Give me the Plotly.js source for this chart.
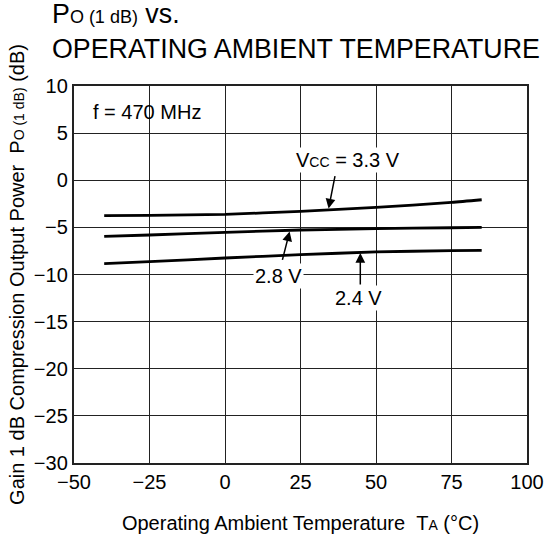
<!DOCTYPE html>
<html>
<head>
<meta charset="utf-8">
<script src="https://cdn.plot.ly/plotly-3.0.1.min.js"></script>
<style>html,body{margin:0;padding:0;background:#fff;}#chart{width:550px;height:541px;}</style>
</head>
<body>
<div id="chart"></div>
<script>
// Data
const temperature = [-40, -25, 0, 25, 50, 75, 85];
const vcc33 = [-3.76, -3.72, -3.62, -3.30, -2.88, -2.35, -2.07];
const vcc28 = [-5.95, -5.81, -5.53, -5.28, -5.14, -5.04, -5.00];
const vcc24 = [-8.85, -8.64, -8.25, -7.90, -7.61, -7.47, -7.44];
const seriesNames = ['VCC = 3.3 V', '2.8 V', '2.4 V'];
const xTicks = [-50, -25, 0, 25, 50, 75, 100];
const yTicks = [-30, -25, -20, -15, -10, -5, 0, 5, 10];

const FONT = 'Liberation Sans, Arial, Helvetica, sans-serif';
const lineStyle = {color: '#000', width: 2.8, shape: 'spline', smoothing: 0.6};

const traces = [
  {x: temperature, y: vcc33, name: seriesNames[0], mode: 'lines', line: lineStyle},
  {x: temperature, y: vcc28, name: seriesNames[1], mode: 'lines', line: lineStyle},
  {x: temperature, y: vcc24, name: seriesNames[2], mode: 'lines', line: lineStyle}
];

const txtFont = {family: FONT, size: 20, color: '#000'};
const arrow = {showarrow: true, text: '', arrowhead: 2, arrowsize: 1.3, arrowwidth: 1.5, arrowcolor: '#000', standoff: 0};

const layout = {
  width: 550, height: 541,
  margin: {l: 74, r: 23, t: 86, b: 78},
  paper_bgcolor: '#fff', plot_bgcolor: '#fff',
  showlegend: false,
  font: {family: FONT, color: '#000'},
  title: {
    text: 'P<span style="font-size:18px">O (1 dB)</span> vs.<br>OPERATING AMBIENT TEMPERATURE',
    font: {family: FONT, size: 26.8, color: '#000'},
    xref: 'container', yref: 'container',
    x: 52 / 550, xanchor: 'left',
    y: 0.957, yanchor: 'top'
  },
  xaxis: {
    range: [-50, 100], tickvals: xTicks, ticktext: xTicks.map(v => v < 0 ? '\u2212' + Math.abs(v) : String(v)),
    showgrid: true, gridcolor: '#222', gridwidth: 1,
    showline: true, linecolor: '#222', linewidth: 2.2, mirror: true,
    zeroline: false, ticks: '', ticklabelstandoff: 0,
    tickfont: {family: FONT, size: 20, color: '#000'},
    title: {text: 'Operating Ambient Temperature\u00a0\u00a0T<span style="font-size:14px">A</span> (°C)', font: {family: FONT, size: 20, color: '#000'}, standoff: 24}
  },
  yaxis: {
    range: [-30, 10], tickvals: yTicks, ticktext: yTicks.map(v => v < 0 ? '\u2212' + Math.abs(v) : String(v)),
    showgrid: true, gridcolor: '#222', gridwidth: 1,
    showline: true, linecolor: '#222', linewidth: 2.2, mirror: true,
    zeroline: false, ticks: '', ticklabelstandoff: 0,
    tickfont: {family: FONT, size: 20, color: '#000'},
    title: {text: 'Gain 1 dB Compression Output Power\u00a0\u00a0P<span style="font-size:14px">O (1 dB)</span> (dB)', font: {family: FONT, size: 20, color: '#000'}, standoff: 4}
  },
  annotations: [
    {x: -44.5, y: 7.2, xref: 'x', yref: 'y', text: 'f = 470 MHz', showarrow: false, xanchor: 'left', yanchor: 'middle', font: txtFont},
    {x: 40.6, y: 2.16, xref: 'x', yref: 'y', text: 'V<span style="font-size:14px">CC</span> = 3.3 V', showarrow: false, xanchor: 'center', yanchor: 'middle', font: txtFont, bgcolor: '#fff', borderpad: 1},
    {x: 17.75, y: -10.13, xref: 'x', yref: 'y', text: '2.8 V', showarrow: false, xanchor: 'center', yanchor: 'middle', font: txtFont, bgcolor: '#fff', borderpad: 1},
    {x: 44.2, y: -12.49, xref: 'x', yref: 'y', text: '2.4 V', showarrow: false, xanchor: 'center', yanchor: 'middle', font: txtFont, bgcolor: '#fff', borderpad: 1},
    Object.assign({x: 34.3, y: -3.0, xref: 'x', yref: 'y', ax: 6.7, ay: -34}, arrow),
    Object.assign({x: 21.4, y: -5.43, xref: 'x', yref: 'y', ax: -7.6, ay: 30}, arrow),
    Object.assign({x: 44.8, y: -7.72, xref: 'x', yref: 'y', ax: 0, ay: 33}, arrow)
  ]
};

Plotly.newPlot('chart', traces, layout, {displayModeBar: false, staticPlot: true});
</script>
</body>
</html>
